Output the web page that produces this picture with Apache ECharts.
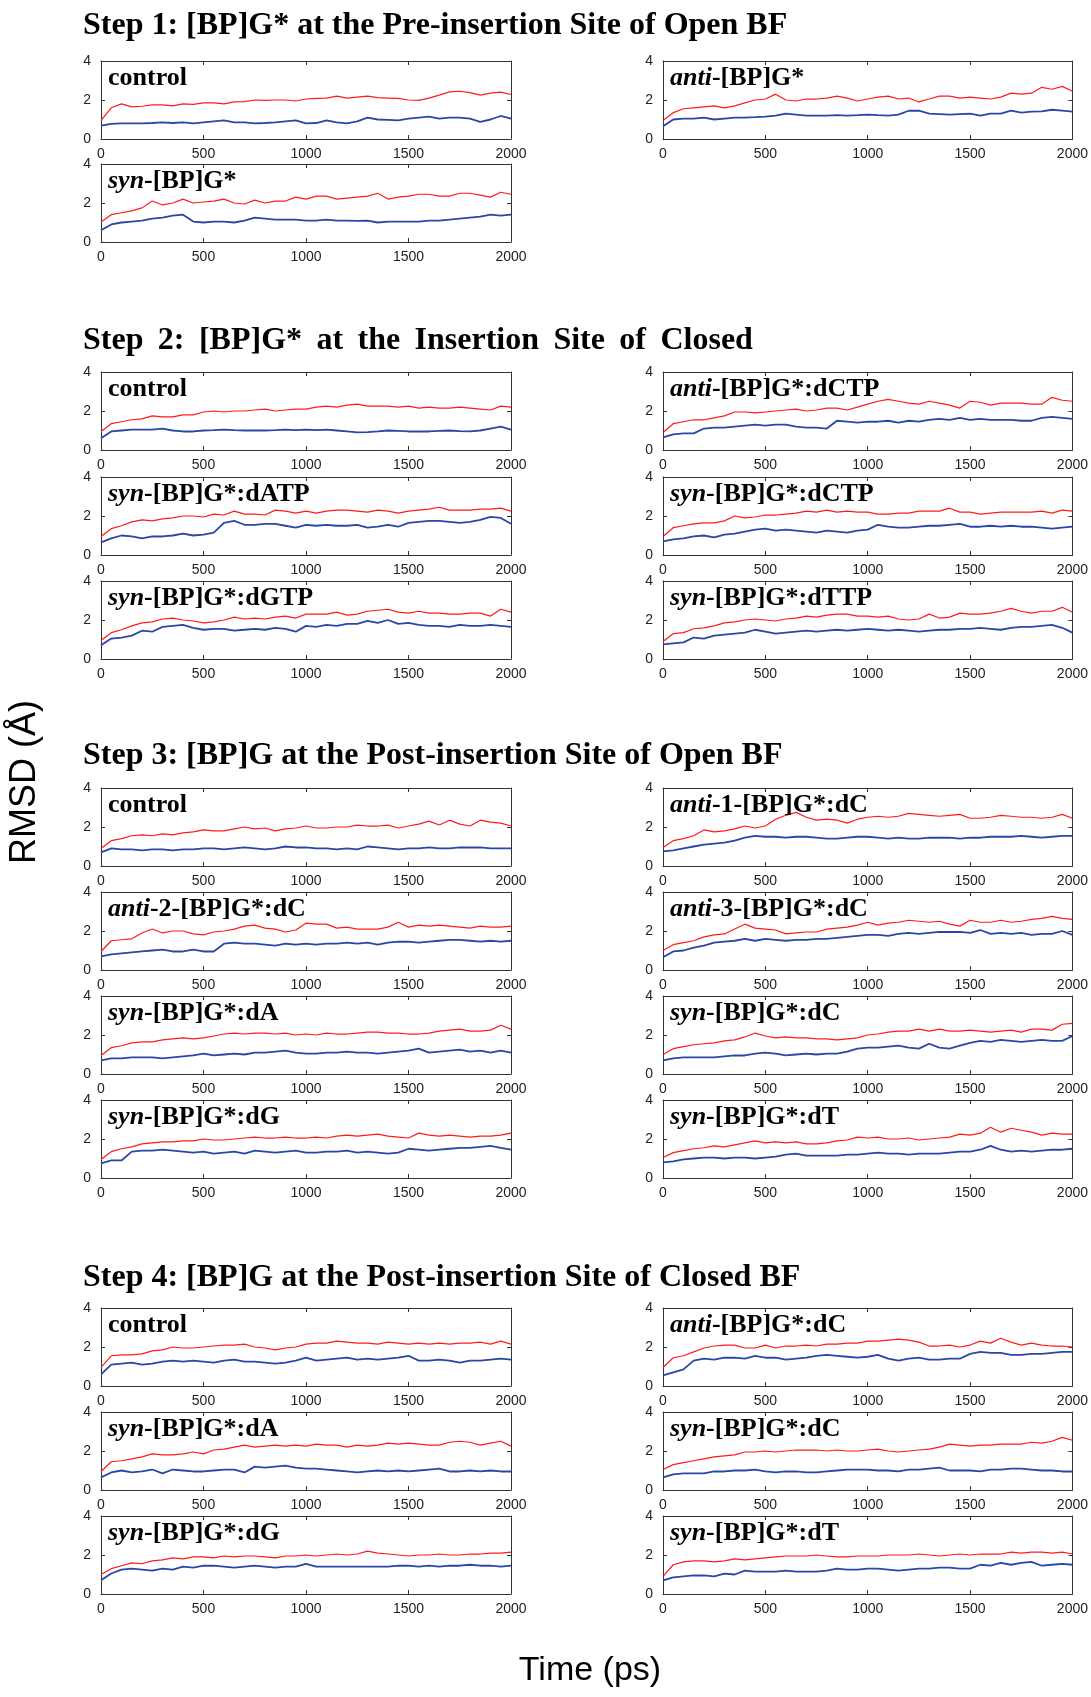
<!DOCTYPE html>
<html>
<head>
<meta charset="utf-8">
<script src="https://cdn.jsdelivr.net/npm/echarts@6/dist/echarts.min.js"></script>
<style>
html, body { margin: 0; padding: 0; background: #fff; }
#rmsd { width: 1091px; height: 1697px; }
</style>
</head>
<body>
<div id="rmsd"></div>
<script>
// time axis (ps), values read every 50 ps
const times = [0,
  50, 100, 150, 200, 250, 300, 350, 400, 450, 500,
  550, 600, 650, 700, 750, 800, 850, 900, 950, 1000,
  1050, 1100, 1150, 1200, 1250, 1300, 1350, 1400, 1450, 1500,
  1550, 1600, 1650, 1700, 1750, 1800, 1850, 1900, 1950, 2000];

const xTicks = [0, 500, 1000, 1500, 2000];
const yTicks = [0, 2, 4];

// Step 1
const s1CtrlRed = [0.95,
  1.6, 1.8, 1.65, 1.68, 1.75, 1.75, 1.7, 1.8, 1.78, 1.85,
  1.85, 1.8, 1.9, 1.92, 2.0, 1.98, 2.0, 2.0, 1.95, 2.05,
  2.08, 2.1, 2.2, 2.1, 2.15, 2.2, 2.12, 2.1, 2.08, 2.0,
  1.98, 2.1, 2.25, 2.42, 2.45, 2.38, 2.25, 2.35, 2.4, 2.28];
const s1CtrlBlue = [0.68,
  0.78, 0.8, 0.8, 0.8, 0.82, 0.85, 0.82, 0.85, 0.8, 0.85,
  0.9, 0.95, 0.85, 0.85, 0.8, 0.82, 0.85, 0.9, 0.95, 0.8,
  0.82, 0.95, 0.85, 0.8, 0.9, 1.1, 1.0, 0.98, 0.95, 1.05,
  1.1, 1.15, 1.05, 1.1, 1.1, 1.05, 0.88, 1.0, 1.18, 1.05];
const s1SynRed = [1.02,
  1.4, 1.5, 1.6, 1.75, 2.1, 1.9, 2.0, 2.2, 2.0, 2.05,
  2.1, 2.2, 2.0, 1.95, 2.15, 2.0, 2.1, 2.1, 2.3, 2.2,
  2.35, 2.35, 2.2, 2.25, 2.3, 2.35, 2.5, 2.2, 2.3, 2.35,
  2.45, 2.45, 2.35, 2.35, 2.5, 2.5, 2.4, 2.3, 2.55, 2.45];
const s1SynBlue = [0.6,
  0.9, 1.0, 1.05, 1.1, 1.2, 1.25, 1.35, 1.4, 1.05, 1.0,
  1.05, 1.05, 1.0, 1.1, 1.25, 1.2, 1.15, 1.15, 1.15, 1.1,
  1.1, 1.15, 1.1, 1.1, 1.08, 1.1, 1.0, 1.05, 1.05, 1.05,
  1.05, 1.1, 1.1, 1.15, 1.2, 1.25, 1.3, 1.4, 1.35, 1.4];
const s1AntiRed = [0.95,
  1.35, 1.55, 1.6, 1.65, 1.7, 1.6, 1.7, 1.85, 2.0, 2.05,
  2.3, 2.0, 1.95, 2.05, 2.05, 2.1, 2.2, 2.1, 1.95, 2.05,
  2.15, 2.2, 2.05, 2.1, 1.9, 2.05, 2.2, 2.2, 2.1, 2.15,
  2.1, 2.05, 2.15, 2.35, 2.3, 2.35, 2.65, 2.55, 2.7, 2.45];
const s1AntiBlue = [0.65,
  1.0, 1.05, 1.05, 1.1, 1.0, 1.05, 1.1, 1.1, 1.12, 1.15,
  1.2, 1.3, 1.25, 1.2, 1.2, 1.2, 1.22, 1.2, 1.22, 1.25,
  1.22, 1.2, 1.25, 1.45, 1.45, 1.3, 1.28, 1.25, 1.28, 1.3,
  1.2, 1.3, 1.3, 1.45, 1.35, 1.4, 1.42, 1.5, 1.45, 1.4];

// Step 2
const s2CtrlRed = [0.95,
  1.35, 1.45, 1.55, 1.6, 1.75, 1.7, 1.7, 1.8, 1.8, 1.95,
  2.0, 1.95, 2.0, 2.0, 2.05, 2.1, 2.0, 2.05, 2.1, 2.1,
  2.2, 2.25, 2.2, 2.3, 2.35, 2.25, 2.25, 2.25, 2.2, 2.25,
  2.15, 2.2, 2.15, 2.15, 2.2, 2.15, 2.1, 2.05, 2.25, 2.2];
const s2CtrlBlue = [0.6,
  0.95, 1.0, 1.05, 1.05, 1.05, 1.1, 1.0, 0.95, 0.95, 1.0,
  1.02, 1.05, 1.02, 1.0, 1.0, 1.0, 1.02, 1.05, 1.02, 1.05,
  1.02, 1.05, 1.0, 0.95, 0.9, 0.92, 0.95, 1.0, 0.98, 0.95,
  0.95, 0.95, 0.98, 1.0, 0.97, 0.95, 1.0, 1.1, 1.2, 1.05];
const s2DatpRed = [0.95,
  1.35, 1.5, 1.7, 1.8, 1.75, 1.85, 1.9, 2.0, 2.0, 1.95,
  2.1, 2.05, 2.25, 2.1, 2.1, 2.05, 2.3, 2.25, 2.15, 2.25,
  2.15, 2.25, 2.3, 2.3, 2.25, 2.2, 2.3, 2.25, 2.15, 2.25,
  2.3, 2.35, 2.45, 2.3, 2.3, 2.3, 2.35, 2.35, 2.4, 2.25];
const s2DatpBlue = [0.65,
  0.85, 1.0, 0.95, 0.85, 0.95, 0.95, 1.0, 1.1, 1.0, 1.05,
  1.15, 1.65, 1.75, 1.55, 1.55, 1.6, 1.6, 1.5, 1.4, 1.55,
  1.5, 1.55, 1.5, 1.5, 1.55, 1.4, 1.45, 1.55, 1.45, 1.65,
  1.7, 1.75, 1.75, 1.7, 1.65, 1.7, 1.8, 1.95, 1.9, 1.6];
const s2DgtpRed = [0.95,
  1.35, 1.5, 1.7, 1.85, 1.9, 2.05, 2.1, 2.0, 1.95, 1.85,
  1.9, 2.0, 2.15, 2.05, 2.1, 2.05, 2.15, 2.2, 2.1, 2.3,
  2.3, 2.3, 2.4, 2.25, 2.3, 2.45, 2.5, 2.55, 2.4, 2.35,
  2.45, 2.35, 2.35, 2.3, 2.3, 2.35, 2.35, 2.2, 2.55, 2.4];
const s2DgtpBlue = [0.7,
  1.05, 1.1, 1.2, 1.45, 1.4, 1.65, 1.7, 1.75, 1.6, 1.5,
  1.55, 1.55, 1.45, 1.5, 1.55, 1.5, 1.6, 1.55, 1.4, 1.7,
  1.65, 1.75, 1.7, 1.8, 1.8, 1.95, 1.85, 2.0, 1.8, 1.85,
  1.75, 1.7, 1.7, 1.65, 1.75, 1.7, 1.7, 1.75, 1.7, 1.65];
const s2AntiDctpRed = [0.9,
  1.35, 1.45, 1.55, 1.55, 1.65, 1.75, 1.95, 1.95, 1.9, 1.95,
  2.0, 2.05, 2.1, 2.0, 2.05, 2.15, 2.15, 2.05, 2.2, 2.35,
  2.5, 2.6, 2.5, 2.4, 2.35, 2.5, 2.4, 2.3, 2.15, 2.5,
  2.45, 2.3, 2.4, 2.4, 2.4, 2.35, 2.35, 2.7, 2.55, 2.5];
const s2AntiDctpBlue = [0.65,
  0.8, 0.85, 0.85, 1.1, 1.15, 1.15, 1.2, 1.25, 1.3, 1.25,
  1.3, 1.3, 1.2, 1.15, 1.15, 1.1, 1.5, 1.45, 1.4, 1.45,
  1.45, 1.5, 1.4, 1.5, 1.45, 1.55, 1.6, 1.55, 1.65, 1.55,
  1.6, 1.55, 1.55, 1.55, 1.5, 1.5, 1.65, 1.7, 1.65, 1.6];
const s2SynDctpRed = [0.95,
  1.4, 1.5, 1.6, 1.65, 1.65, 1.75, 2.0, 1.9, 1.95, 2.05,
  2.05, 2.1, 2.15, 2.25, 2.2, 2.3, 2.2, 2.25, 2.2, 2.2,
  2.1, 2.1, 2.15, 2.15, 2.25, 2.25, 2.25, 2.4, 2.2, 2.2,
  2.1, 2.15, 2.2, 2.2, 2.2, 2.2, 2.25, 2.15, 2.3, 2.25];
const s2SynDctpBlue = [0.7,
  0.8, 0.85, 0.95, 1.0, 0.9, 1.05, 1.1, 1.2, 1.3, 1.35,
  1.25, 1.3, 1.25, 1.2, 1.15, 1.25, 1.2, 1.15, 1.25, 1.3,
  1.55, 1.45, 1.4, 1.4, 1.45, 1.5, 1.5, 1.55, 1.6, 1.45,
  1.45, 1.5, 1.45, 1.5, 1.45, 1.45, 1.4, 1.35, 1.4, 1.45];
const s2SynDttpRed = [0.9,
  1.3, 1.35, 1.55, 1.6, 1.7, 1.85, 1.9, 2.0, 2.05, 2.0,
  1.95, 2.05, 2.1, 2.2, 2.15, 2.25, 2.3, 2.3, 2.2, 2.2,
  2.15, 2.2, 2.05, 2.0, 2.05, 2.3, 2.1, 2.15, 2.35, 2.3,
  2.3, 2.35, 2.45, 2.6, 2.45, 2.35, 2.45, 2.45, 2.65, 2.4];
const s2SynDttpBlue = [0.75,
  0.8, 0.85, 1.1, 1.05, 1.2, 1.25, 1.3, 1.35, 1.5, 1.4,
  1.3, 1.35, 1.4, 1.45, 1.4, 1.45, 1.5, 1.45, 1.5, 1.55,
  1.5, 1.45, 1.5, 1.45, 1.4, 1.45, 1.5, 1.5, 1.55, 1.55,
  1.6, 1.55, 1.5, 1.6, 1.65, 1.65, 1.7, 1.75, 1.6, 1.35];

// Step 3
const s3CtrlRed = [0.9,
  1.3, 1.4, 1.55, 1.6, 1.55, 1.65, 1.6, 1.7, 1.75, 1.85,
  1.8, 1.8, 1.9, 2.0, 1.9, 1.95, 1.8, 1.9, 1.95, 2.05,
  1.95, 1.95, 2.0, 2.0, 2.1, 2.05, 2.05, 2.1, 1.95, 2.05,
  2.15, 2.3, 2.1, 2.35, 2.15, 2.05, 2.35, 2.25, 2.2, 2.05];
const s3CtrlBlue = [0.7,
  0.9, 0.85, 0.85, 0.8, 0.85, 0.85, 0.8, 0.85, 0.85, 0.9,
  0.9, 0.85, 0.9, 0.95, 0.9, 0.85, 0.9, 1.0, 0.95, 0.95,
  0.9, 0.9, 0.85, 0.9, 0.85, 1.0, 0.95, 0.9, 0.85, 0.9,
  0.9, 0.95, 0.9, 0.9, 0.95, 0.95, 0.95, 0.9, 0.9, 0.9];
const s3Anti2Red = [0.95,
  1.5, 1.55, 1.6, 1.9, 2.1, 1.9, 2.0, 2.0, 1.85, 1.8,
  1.95, 2.0, 2.1, 2.25, 2.3, 2.15, 2.1, 1.95, 2.05, 2.4,
  2.35, 2.35, 2.15, 2.2, 2.1, 2.1, 2.1, 2.2, 2.45, 2.2,
  2.3, 2.25, 2.3, 2.25, 2.2, 2.15, 2.25, 2.2, 2.2, 2.25];
const s3Anti2Blue = [0.7,
  0.8, 0.85, 0.9, 0.95, 1.0, 1.05, 0.95, 0.95, 1.05, 0.95,
  0.95, 1.35, 1.4, 1.35, 1.35, 1.3, 1.25, 1.35, 1.3, 1.35,
  1.3, 1.35, 1.35, 1.4, 1.35, 1.4, 1.3, 1.4, 1.45, 1.45,
  1.4, 1.45, 1.5, 1.55, 1.55, 1.5, 1.45, 1.5, 1.45, 1.5];
const s3SynDaRed = [0.95,
  1.35, 1.45, 1.6, 1.65, 1.65, 1.75, 1.8, 1.85, 1.8, 1.85,
  1.95, 2.05, 2.1, 2.05, 2.1, 2.1, 2.05, 2.1, 2.0, 2.05,
  2.0, 2.1, 2.05, 2.05, 2.1, 2.15, 2.15, 2.1, 2.1, 2.05,
  2.05, 2.1, 2.2, 2.25, 2.3, 2.2, 2.2, 2.25, 2.5, 2.3];
const s3SynDaBlue = [0.7,
  0.8, 0.8, 0.85, 0.85, 0.85, 0.8, 0.85, 0.9, 0.95, 1.05,
  0.95, 1.0, 1.05, 1.0, 1.1, 1.1, 1.15, 1.2, 1.1, 1.05,
  1.05, 1.1, 1.1, 1.15, 1.1, 1.1, 1.05, 1.1, 1.15, 1.2,
  1.3, 1.1, 1.15, 1.2, 1.25, 1.15, 1.2, 1.1, 1.2, 1.1];
const s3SynDgRed = [0.95,
  1.35, 1.5, 1.6, 1.75, 1.8, 1.85, 1.85, 1.9, 1.9, 2.0,
  1.95, 1.95, 2.0, 2.05, 2.1, 2.05, 2.05, 2.1, 2.05, 2.05,
  2.1, 2.05, 2.15, 2.2, 2.15, 2.2, 2.25, 2.15, 2.1, 2.05,
  2.3, 2.2, 2.15, 2.2, 2.15, 2.1, 2.15, 2.15, 2.2, 2.3];
const s3SynDgBlue = [0.75,
  0.9, 0.9, 1.35, 1.4, 1.4, 1.45, 1.4, 1.35, 1.3, 1.35,
  1.25, 1.3, 1.35, 1.25, 1.4, 1.35, 1.3, 1.35, 1.4, 1.3,
  1.3, 1.35, 1.35, 1.4, 1.3, 1.35, 1.3, 1.25, 1.3, 1.5,
  1.45, 1.4, 1.45, 1.5, 1.55, 1.55, 1.6, 1.65, 1.55, 1.45];
const s3Anti1Red = [0.95,
  1.3, 1.4, 1.55, 1.85, 1.75, 1.8, 1.9, 2.05, 1.95, 2.05,
  2.4, 2.6, 2.75, 2.5, 2.35, 2.4, 2.35, 2.2, 2.4, 2.5,
  2.55, 2.5, 2.55, 2.7, 2.65, 2.6, 2.55, 2.6, 2.65, 2.45,
  2.45, 2.5, 2.6, 2.55, 2.5, 2.5, 2.45, 2.5, 2.65, 2.45];
const s3Anti1Blue = [0.75,
  0.8, 0.9, 1.0, 1.1, 1.15, 1.2, 1.3, 1.45, 1.55, 1.5,
  1.5, 1.45, 1.5, 1.5, 1.45, 1.4, 1.4, 1.45, 1.5, 1.5,
  1.45, 1.4, 1.45, 1.4, 1.4, 1.45, 1.45, 1.45, 1.4, 1.45,
  1.45, 1.5, 1.5, 1.5, 1.55, 1.5, 1.45, 1.5, 1.55, 1.55];
const s3Anti3Red = [1.0,
  1.3, 1.4, 1.5, 1.7, 1.8, 1.85, 2.1, 2.35, 2.15, 2.1,
  2.05, 1.85, 1.9, 1.95, 1.95, 2.1, 2.15, 2.2, 2.3, 2.45,
  2.3, 2.4, 2.45, 2.55, 2.5, 2.45, 2.5, 2.35, 2.25, 2.55,
  2.45, 2.45, 2.55, 2.45, 2.5, 2.6, 2.65, 2.75, 2.65, 2.6];
const s3Anti3Blue = [0.65,
  0.95, 1.0, 1.15, 1.25, 1.4, 1.45, 1.5, 1.6, 1.5, 1.6,
  1.55, 1.5, 1.55, 1.55, 1.6, 1.6, 1.65, 1.7, 1.75, 1.8,
  1.8, 1.75, 1.85, 1.9, 1.85, 1.9, 1.95, 1.95, 1.95, 1.9,
  2.05, 1.85, 1.9, 1.85, 1.9, 1.8, 1.85, 1.85, 2.0, 1.8];
const s3SynDcRed = [1.0,
  1.3, 1.4, 1.5, 1.55, 1.6, 1.7, 1.75, 1.9, 2.1, 1.95,
  1.85, 1.9, 1.85, 1.85, 1.8, 1.8, 1.75, 1.8, 1.85, 2.0,
  2.05, 2.15, 2.2, 2.2, 2.3, 2.2, 2.3, 2.2, 2.2, 2.25,
  2.2, 2.15, 2.2, 2.25, 2.15, 2.3, 2.3, 2.25, 2.55, 2.6];
const s3SynDcBlue = [0.7,
  0.8, 0.85, 0.85, 0.85, 0.85, 0.9, 0.95, 0.95, 1.05, 1.1,
  1.05, 0.95, 1.0, 1.05, 1.0, 1.05, 1.05, 1.15, 1.3, 1.35,
  1.35, 1.4, 1.45, 1.35, 1.3, 1.55, 1.35, 1.3, 1.45, 1.6,
  1.7, 1.65, 1.75, 1.7, 1.65, 1.7, 1.75, 1.7, 1.7, 1.95];
const s3SynDtRed = [1.05,
  1.3, 1.4, 1.5, 1.55, 1.65, 1.6, 1.7, 1.8, 1.9, 1.8,
  1.85, 1.8, 1.85, 1.75, 1.75, 1.8, 1.9, 1.95, 2.1, 2.05,
  2.1, 2.0, 2.0, 2.05, 1.95, 2.0, 2.05, 2.1, 2.25, 2.2,
  2.3, 2.6, 2.35, 2.55, 2.45, 2.35, 2.2, 2.3, 2.25, 2.25];
const s3SynDtBlue = [0.8,
  0.85, 0.95, 1.0, 1.05, 1.05, 1.0, 1.05, 1.05, 1.0, 1.05,
  1.1, 1.2, 1.25, 1.15, 1.15, 1.15, 1.15, 1.2, 1.2, 1.25,
  1.3, 1.25, 1.25, 1.2, 1.25, 1.25, 1.25, 1.3, 1.35, 1.35,
  1.45, 1.65, 1.45, 1.35, 1.4, 1.35, 1.4, 1.45, 1.45, 1.5];

// Step 4
const s4CtrlRed = [0.95,
  1.55, 1.6, 1.6, 1.65, 1.8, 1.85, 2.0, 1.95, 1.95, 2.0,
  2.05, 2.1, 2.1, 2.15, 2.0, 1.95, 1.85, 1.95, 2.0, 2.15,
  2.2, 2.2, 2.3, 2.25, 2.2, 2.2, 2.15, 2.25, 2.2, 2.15,
  2.2, 2.15, 2.2, 2.15, 2.2, 2.2, 2.25, 2.15, 2.3, 2.15];
const s4CtrlBlue = [0.6,
  1.1, 1.15, 1.2, 1.1, 1.15, 1.25, 1.3, 1.25, 1.3, 1.25,
  1.2, 1.3, 1.35, 1.25, 1.25, 1.2, 1.15, 1.2, 1.3, 1.45,
  1.3, 1.35, 1.4, 1.45, 1.35, 1.4, 1.35, 1.4, 1.45, 1.55,
  1.3, 1.3, 1.35, 1.3, 1.2, 1.3, 1.3, 1.35, 1.4, 1.35];
const s4SynDaRed = [0.95,
  1.45, 1.5, 1.6, 1.7, 1.85, 1.8, 1.8, 1.85, 1.95, 1.85,
  2.05, 2.1, 2.2, 2.3, 2.2, 2.25, 2.3, 2.25, 2.3, 2.25,
  2.35, 2.3, 2.3, 2.2, 2.3, 2.25, 2.3, 2.4, 2.35, 2.4,
  2.35, 2.3, 2.3, 2.45, 2.5, 2.45, 2.3, 2.4, 2.5, 2.25];
const s4SynDaBlue = [0.65,
  0.9, 1.0, 0.9, 0.95, 1.05, 0.85, 1.05, 1.0, 0.95, 0.95,
  1.0, 1.05, 1.05, 0.9, 1.2, 1.15, 1.2, 1.25, 1.15, 1.1,
  1.1, 1.05, 1.0, 0.95, 0.9, 0.95, 1.0, 0.95, 1.0, 0.95,
  1.0, 1.05, 1.1, 0.95, 0.95, 1.0, 0.95, 1.0, 0.95, 0.95];
const s4SynDgRed = [1.0,
  1.3, 1.45, 1.6, 1.55, 1.7, 1.75, 1.85, 1.8, 1.9, 1.9,
  1.85, 1.95, 1.9, 1.95, 1.95, 1.9, 1.85, 1.95, 1.95, 2.0,
  1.95, 2.0, 2.05, 2.0, 2.05, 2.2, 2.1, 2.05, 2.0, 1.95,
  2.0, 2.0, 2.05, 2.0, 2.0, 2.05, 2.05, 2.1, 2.1, 2.15];
const s4SynDgBlue = [0.7,
  1.05, 1.25, 1.3, 1.25, 1.2, 1.3, 1.25, 1.4, 1.35, 1.45,
  1.45, 1.4, 1.35, 1.4, 1.45, 1.4, 1.35, 1.4, 1.4, 1.55,
  1.4, 1.4, 1.4, 1.4, 1.4, 1.4, 1.4, 1.4, 1.45, 1.45,
  1.4, 1.45, 1.4, 1.45, 1.45, 1.5, 1.45, 1.45, 1.4, 1.45];
const s4AntiDcRed = [0.95,
  1.45, 1.55, 1.75, 1.95, 2.05, 2.1, 2.1, 1.95, 1.95, 2.1,
  1.95, 2.05, 2.05, 2.1, 2.05, 2.15, 2.15, 2.2, 2.2, 2.3,
  2.3, 2.35, 2.4, 2.35, 2.25, 2.05, 2.05, 2.1, 2.0, 2.1,
  2.3, 2.2, 2.45, 2.25, 2.1, 2.2, 2.1, 2.05, 2.05, 2.0];
const s4AntiDcBlue = [0.55,
  0.7, 0.85, 1.3, 1.4, 1.35, 1.45, 1.45, 1.4, 1.55, 1.45,
  1.45, 1.35, 1.4, 1.45, 1.55, 1.6, 1.55, 1.5, 1.45, 1.5,
  1.6, 1.4, 1.3, 1.4, 1.45, 1.35, 1.35, 1.4, 1.4, 1.65,
  1.75, 1.7, 1.7, 1.6, 1.6, 1.65, 1.65, 1.7, 1.75, 1.75];
const s4SynDcRed = [1.05,
  1.3, 1.4, 1.5, 1.6, 1.7, 1.75, 1.8, 1.95, 1.95, 2.0,
  1.95, 2.0, 2.05, 2.05, 2.05, 2.0, 2.05, 2.0, 2.0, 2.05,
  2.1, 2.0, 1.95, 2.0, 2.05, 2.1, 2.2, 2.35, 2.3, 2.25,
  2.3, 2.3, 2.35, 2.35, 2.35, 2.45, 2.4, 2.5, 2.7, 2.55];
const s4SynDcBlue = [0.65,
  0.8, 0.85, 0.85, 0.85, 0.95, 0.95, 1.0, 1.0, 1.05, 0.95,
  0.9, 0.95, 0.95, 0.9, 0.9, 0.95, 1.0, 1.05, 1.05, 1.05,
  1.0, 1.0, 0.95, 1.05, 1.05, 1.1, 1.15, 1.0, 1.0, 1.0,
  0.95, 1.05, 1.05, 1.1, 1.1, 1.05, 1.0, 1.0, 0.95, 0.95];
const s4SynDtRed = [0.9,
  1.5, 1.65, 1.7, 1.7, 1.65, 1.7, 1.8, 1.75, 1.8, 1.85,
  1.9, 1.95, 1.95, 1.95, 2.0, 1.95, 1.9, 1.9, 1.95, 1.95,
  1.95, 2.0, 2.0, 2.0, 2.05, 2.0, 1.95, 2.0, 2.05, 2.0,
  2.05, 2.05, 2.05, 2.15, 2.1, 2.15, 2.15, 2.1, 2.15, 2.05];
const s4SynDtBlue = [0.7,
  0.85, 0.9, 0.95, 0.95, 0.9, 1.05, 1.0, 1.2, 1.15, 1.15,
  1.15, 1.2, 1.15, 1.15, 1.15, 1.2, 1.3, 1.25, 1.25, 1.3,
  1.3, 1.25, 1.2, 1.25, 1.3, 1.3, 1.35, 1.35, 1.3, 1.3,
  1.5, 1.45, 1.6, 1.5, 1.6, 1.65, 1.45, 1.5, 1.55, 1.5];

const stepTitles = [
  { text: 'Step 1: [BP]G* at the Pre-insertion Site of Open BF', top: 10 },
  { text: 'Step \u20092: \u2009[BP]G* \u2009at \u2009the \u2009Insertion \u2009Site \u2009of \u2009Closed', top: 325 },
  { text: 'Step 3: [BP]G at the Post-insertion Site of Open BF', top: 740 },
  { text: 'Step 4: [BP]G at the Post-insertion Site of Closed BF', top: 1262 }
];

// col 0 = left column, col 1 = right column
const panels = [
  { label: '{b|control}', col: 0, top: 61, red: s1CtrlRed, blue: s1CtrlBlue },
  { label: '{i|syn}{b|-[BP]G*}', col: 0, top: 164, red: s1SynRed, blue: s1SynBlue },
  { label: '{i|anti}{b|-[BP]G*}', col: 1, top: 61, red: s1AntiRed, blue: s1AntiBlue },

  { label: '{b|control}', col: 0, top: 372, red: s2CtrlRed, blue: s2CtrlBlue },
  { label: '{i|syn}{b|-[BP]G*:dATP}', col: 0, top: 477, red: s2DatpRed, blue: s2DatpBlue },
  { label: '{i|syn}{b|-[BP]G*:dGTP}', col: 0, top: 581, red: s2DgtpRed, blue: s2DgtpBlue },
  { label: '{i|anti}{b|-[BP]G*:dCTP}', col: 1, top: 372, red: s2AntiDctpRed, blue: s2AntiDctpBlue },
  { label: '{i|syn}{b|-[BP]G*:dCTP}', col: 1, top: 477, red: s2SynDctpRed, blue: s2SynDctpBlue },
  { label: '{i|syn}{b|-[BP]G*:dTTP}', col: 1, top: 581, red: s2SynDttpRed, blue: s2SynDttpBlue },

  { label: '{b|control}', col: 0, top: 788, red: s3CtrlRed, blue: s3CtrlBlue },
  { label: '{i|anti}{b|-2-[BP]G*:dC}', col: 0, top: 892, red: s3Anti2Red, blue: s3Anti2Blue },
  { label: '{i|syn}{b|-[BP]G*:dA}', col: 0, top: 996, red: s3SynDaRed, blue: s3SynDaBlue },
  { label: '{i|syn}{b|-[BP]G*:dG}', col: 0, top: 1100, red: s3SynDgRed, blue: s3SynDgBlue },
  { label: '{i|anti}{b|-1-[BP]G*:dC}', col: 1, top: 788, red: s3Anti1Red, blue: s3Anti1Blue },
  { label: '{i|anti}{b|-3-[BP]G*:dC}', col: 1, top: 892, red: s3Anti3Red, blue: s3Anti3Blue },
  { label: '{i|syn}{b|-[BP]G*:dC}', col: 1, top: 996, red: s3SynDcRed, blue: s3SynDcBlue },
  { label: '{i|syn}{b|-[BP]G*:dT}', col: 1, top: 1100, red: s3SynDtRed, blue: s3SynDtBlue },

  { label: '{b|control}', col: 0, top: 1308, red: s4CtrlRed, blue: s4CtrlBlue },
  { label: '{i|syn}{b|-[BP]G*:dA}', col: 0, top: 1412, red: s4SynDaRed, blue: s4SynDaBlue },
  { label: '{i|syn}{b|-[BP]G*:dG}', col: 0, top: 1516, red: s4SynDgRed, blue: s4SynDgBlue },
  { label: '{i|anti}{b|-[BP]G*:dC}', col: 1, top: 1308, red: s4AntiDcRed, blue: s4AntiDcBlue },
  { label: '{i|syn}{b|-[BP]G*:dC}', col: 1, top: 1412, red: s4SynDcRed, blue: s4SynDcBlue },
  { label: '{i|syn}{b|-[BP]G*:dT}', col: 1, top: 1516, red: s4SynDtRed, blue: s4SynDtBlue }
];

let myChart = echarts.init(document.getElementById('rmsd'));

const serif = '"Liberation Serif", "Times New Roman", serif';
const sans = '"Liberation Sans", Arial, sans-serif';
const colLeft = [101, 663];
const frame = '#333';

const title = stepTitles.map(s => ({
    text: s.text,
    left: 83,
    top: s.top,
    padding: 0,
    textStyle: { fontFamily: serif, fontWeight: 'bold', fontSize: 32, color: '#000' }
}));
const grid = [], xAxis = [], yAxis = [], series = [];

panels.forEach((p, i) => {
    const left = colLeft[p.col];
    grid.push({ left: left, top: p.top, width: 410, height: 78 });

    title.push({
        text: p.label,
        left: left + 7,
        top: p.top + 4,
        padding: 0,
        textStyle: {
            rich: {
                b: { fontFamily: serif, fontWeight: 'bold', fontSize: 26, color: '#000' },
                i: { fontFamily: serif, fontWeight: 'bold', fontStyle: 'italic', fontSize: 26, color: '#000' }
            }
        }
    });

    // bottom + top x axes, left + right y axes (boxed frame, ticks inside)
    ['bottom', 'top'].forEach(pos => {
        xAxis.push({
            gridIndex: i, type: 'value', position: pos,
            min: xTicks[0], max: xTicks[xTicks.length - 1], interval: xTicks[1] - xTicks[0],
            axisLine: { onZero: false, lineStyle: { color: frame, width: 1 } },
            axisTick: { inside: true, length: 4, lineStyle: { color: frame } },
            axisLabel: {
                show: pos === 'bottom', margin: 8, fontSize: 14, color: '#222', fontFamily: sans,
                formatter: v => String(v)
            },
            splitLine: { show: false }
        });
    });
    ['left', 'right'].forEach(pos => {
        yAxis.push({
            gridIndex: i, type: 'value', position: pos,
            min: yTicks[0], max: yTicks[yTicks.length - 1], interval: yTicks[1] - yTicks[0],
            axisLine: { onZero: false, lineStyle: { color: frame, width: 1 } },
            axisTick: { inside: true, length: 4, lineStyle: { color: frame } },
            axisLabel: { show: pos === 'left', margin: 10, fontSize: 14, color: '#222', fontFamily: sans },
            splitLine: { show: false }
        });
    });

    series.push({
        type: 'line', xAxisIndex: 2 * i, yAxisIndex: 2 * i,
        data: times.map((t, k) => [t, p.blue[k]]),
        symbol: 'none', lineStyle: { color: '#2a46a6', width: 1.8 }
    });
    series.push({
        type: 'line', xAxisIndex: 2 * i, yAxisIndex: 2 * i,
        data: times.map((t, k) => [t, p.red[k]]),
        symbol: 'none', lineStyle: { color: '#ff1a1a', width: 1.2 }
    });
});

option = {
    backgroundColor: '#fff',
    animation: false,
    title: title,
    grid: grid,
    xAxis: xAxis,
    yAxis: yAxis,
    series: series,
    graphic: [
        {
            type: 'text', x: 25, y: 782, rotation: Math.PI / 2,
            style: { text: 'RMSD (Å)', fontFamily: sans, fontSize: 36, fill: '#000', align: 'center', verticalAlign: 'middle' }
        },
        {
            type: 'text', x: 590, y: 1671,
            style: { text: 'Time (ps)', fontFamily: sans, fontSize: 34, fill: '#000', align: 'center', verticalAlign: 'middle' }
        }
    ]
};

myChart.setOption(option);
</script>
</body>
</html>
